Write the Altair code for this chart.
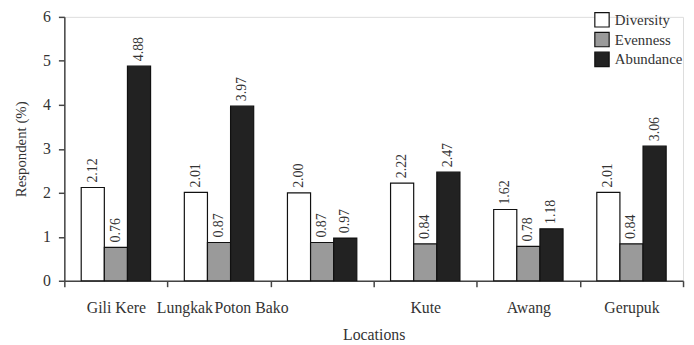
import altair as alt
import pandas as pd

locations = ["Gili Kere", "Lungkak", "Poton Bako", "Kute", "Awang", "Gerupuk"]
series = ["Diversity", "Evenness", "Abundance"]
diversity = [2.12, 2.01, 2.00, 2.22, 1.62, 2.01]
evenness = [0.76, 0.87, 0.87, 0.84, 0.78, 0.84]
abundance = [4.88, 3.97, 0.97, 2.47, 1.18, 3.06]
colors = ["#ffffff", "#9a9a9a", "#222222"]

rows = []
for i, loc in enumerate(locations):
    for s, vals in zip(series, [diversity, evenness, abundance]):
        rows.append({"Location": loc, "Series": s, "Value": vals[i]})
df = pd.DataFrame(rows)

FONT = "Liberation Serif"

x = alt.X(
    "Location:N",
    sort=locations,
    scale=alt.Scale(paddingInner=0, paddingOuter=0),
    axis=alt.Axis(
        title="Locations",
        labelAngle=0,
        tickBand="extent",
        tickSize=6,
        tickColor="#444",
        domainColor="#444",
        domainWidth=1.5,
        tickWidth=1.5,
        labelFont=FONT,
        labelFontSize=16,
        labelColor="#333",
        labelPadding=13,
        titleFont=FONT,
        titleFontSize=16,
        titleFontWeight="normal",
        titleColor="#333",
        titlePadding=11,
        labelOffset={
            "condition": [
                {"test": "datum.value == 'Lungkak'", "value": -35},
                {"test": "datum.value == 'Poton Bako'", "value": -72},
            ],
            "value": 0,
        },
    ),
)
xo = alt.XOffset("Series:N", sort=series, scale=alt.Scale(paddingInner=0, paddingOuter=0.73))
y = alt.Y(
    "Value:Q",
    scale=alt.Scale(domain=[0, 6], nice=False),
    axis=alt.Axis(
        title="Respondent (%)",
        values=[0, 1, 2, 3, 4, 5, 6],
        grid=False,
        tickSize=6,
        tickColor="#444",
        domainColor="#444",
        domainWidth=1.5,
        tickWidth=1.5,
        labelFont=FONT,
        labelFontSize=16,
        labelColor="#333",
        labelPadding=8,
        titleFont=FONT,
        titleFontSize=15,
        titleFontWeight="normal",
        titleColor="#333",
        titlePadding=14,
    ),
)

bars = alt.Chart(df).mark_bar(stroke="#111", strokeWidth=1.2).encode(
    x=x,
    xOffset=xo,
    y=y,
    fill=alt.Fill(
        "Series:N",
        sort=series,
        scale=alt.Scale(domain=series, range=colors),
        legend=alt.Legend(
            title=None,
            orient="none",
            legendX=536,
            legendY=-5,
            symbolType="square",
            symbolSize=210,
            symbolStrokeColor="#111",
            symbolStrokeWidth=1.2,
            labelFont=FONT,
            labelFontSize=15,
            labelColor="#333",
            labelOffset=5,
            rowPadding=0,
        ),
    ),
)

labels = alt.Chart(df).mark_text(
    angle=270, align="left", baseline="middle", dx=5,
    font=FONT, fontSize=14, color="#333",
).encode(
    x=x,
    xOffset=xo,
    y=y,
    text=alt.Text("Value:Q", format=".2f"),
)

chart = (bars + labels).properties(
    width=626,
    height=267,
    autosize=alt.AutoSizeParams(type="none"),
    padding={"left": 57, "top": 7, "right": 3, "bottom": 62},
).configure_view(stroke=None).configure(background="white")

chart.save("out.html", embed_options={"renderer": "svg", "actions": False})
